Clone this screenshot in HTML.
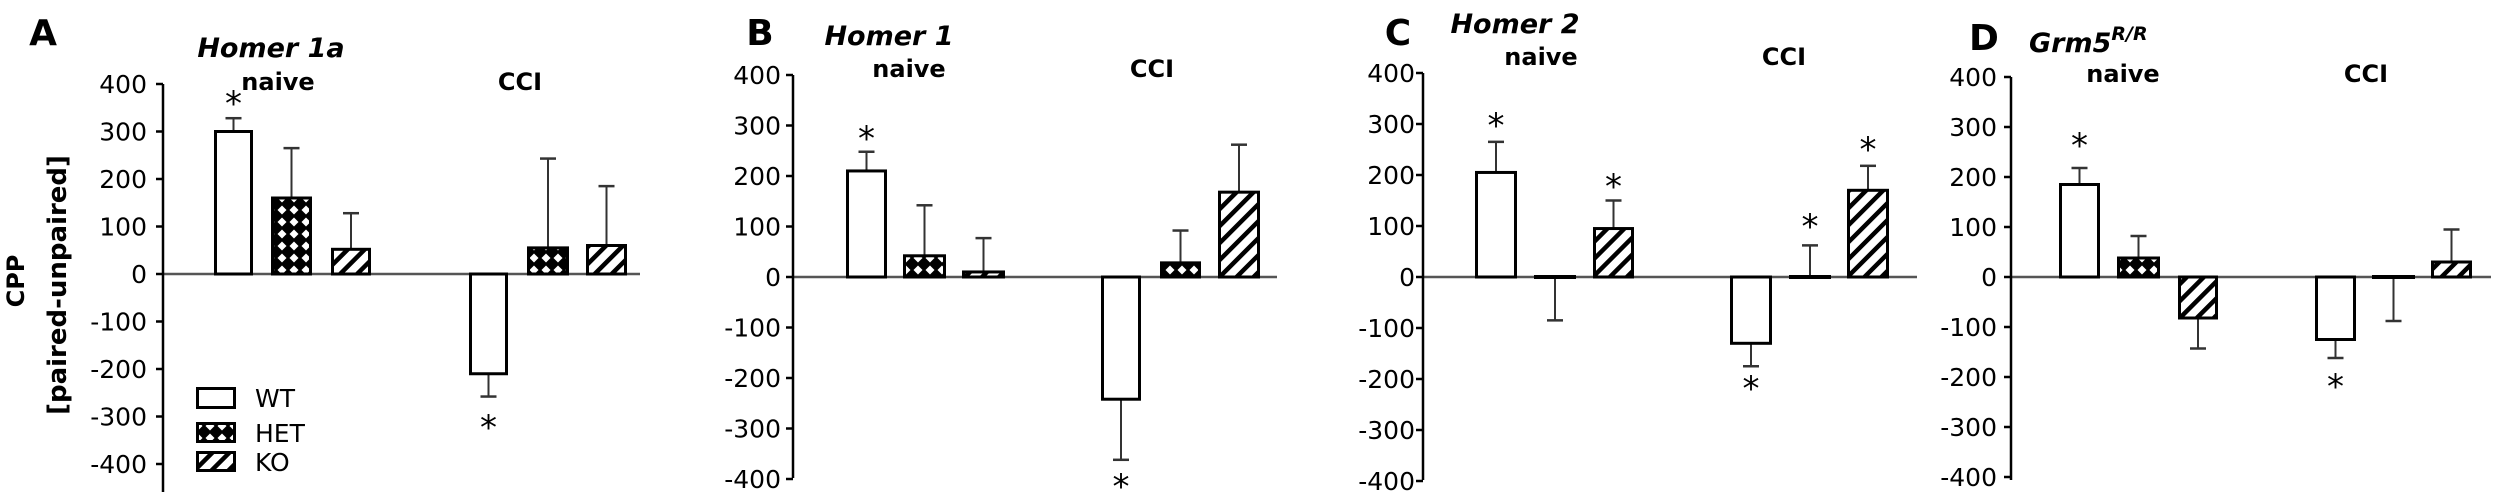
<!DOCTYPE html>
<html><head><meta charset="utf-8">
<style>
html,body{margin:0;padding:0;background:#fff;}
svg{display:block;}
text{font-family:"DejaVu Sans","Liberation Sans",sans-serif;fill:#000;}
</style></head>
<body>
<svg id="s" width="2500" height="501" viewBox="0 0 2500 501" xmlns="http://www.w3.org/2000/svg">
<defs>
<pattern id="hatch" patternUnits="userSpaceOnUse" width="12" height="12" patternTransform="rotate(45)">
<rect width="12" height="12" fill="#fff"/><rect width="4.5" height="12" fill="#000"/>
</pattern>
<pattern id="cross" patternUnits="userSpaceOnUse" width="12" height="12">
<rect width="12" height="12" fill="#000"/><polygon points="6,1.5 10.5,6 6,10.5 1.5,6" fill="#fff"/>
</pattern>
</defs>
<g id="g"></g>
<text x="0" y="0" transform="translate(24,281) rotate(-90)" text-anchor="middle" font-size="24" font-weight="bold">CPP</text>
<text x="0" y="0" transform="translate(66,285) rotate(-90)" text-anchor="middle" font-size="26" font-weight="bold">[paired-unpaired]</text>
</svg>
<script>
var g=document.getElementById('g'),h='';
var P=[
{ax:163,y4:84,y0:274,yb:466,yend:492,lx:43,ly:45,L:'A',tx:271,ty:57,title:'Homer 1a',nx:278,cx:520,ny:90,zr:640,lr:147,
 bars:[[214,253,300,328,1,101],[271,312,160,265,0],[331,371,52,128,0],[469,508,-210,-258,1,425],[527,569,55,243,0],[586,627,60,185,0]]},
{ax:793,y4:75,y0:277,yb:478,yend:478,lx:760,ly:45,L:'B',tx:889,ty:45,title:'Homer 1',nx:909,cx:1152,ny:77,zr:1277,lr:781,
 bars:[[846,887,210,248,1,136],[903,946,42,142,0],[962,1005,10,77,0],[1101,1141,-242,-362,1,484],[1160,1201,28,92,0],[1218,1260,168,262,0]]},
{ax:1423,y4:73,y0:277,yb:480,yend:480,lx:1398,ly:45,L:'C',tx:1515,ty:33,title:'Homer 2',nx:1541,cx:1784,ny:65,zr:1917,lr:1415,
 bars:[[1475,1517,205,265,1,123],[1534,1576,0,-85,0],[1593,1634,95,150,1,184],[1730,1772,-130,-175,1,386],[1789,1831,3,62,1,224],[1847,1889,170,218,1,147]]},
{ax:2011,y4:77,y0:277,yb:480,yend:480,lx:1984,ly:50,L:'D',tx:0,ty:52,title:'',nx:2123,cx:2366,ny:82,zr:2491,lr:1997,
 bars:[[2059,2100,185,218,1,143],[2117,2160,38,82,0],[2178,2218,-82,-143,0],[2315,2356,-125,-162,1,384],[2372,2415,0,-88,0],[2431,2472,30,95,0]]}
];
var fills=['#fff','url(#cross)','url(#hatch)'];
P.forEach(function(p){
 var k=(p.y0-p.y4)/400;
 function Y(v){return p.y0-v*k;}
 h+='<line x1="'+p.ax+'" y1="'+p.y0+'" x2="'+p.zr+'" y2="'+p.y0+'" stroke="#555" stroke-width="2.5"/>';
 h+='<line x1="'+p.ax+'" y1="'+p.y4+'" x2="'+p.ax+'" y2="'+p.yend+'" stroke="#000" stroke-width="2.5"/>';
 for(var v=400;v>=-400;v-=100){var y=Y(v);
  h+='<line x1="'+(p.ax-7)+'" y1="'+y+'" x2="'+p.ax+'" y2="'+y+'" stroke="#000" stroke-width="2.5"/>';
  h+='<text x="'+p.lr+'" y="'+(y+9)+'" font-size="25" text-anchor="end">'+(v<0?'-'+(-v):v)+'</text>';}
 h+='<text x="'+p.lx+'" y="'+(p.ly)+'" font-size="36" font-weight="bold" font-family="Liberation Sans" text-anchor="middle">'+p.L+'</text>';
 if(p.title) h+='<text x="'+p.tx+'" y="'+p.ty+'" font-size="27" font-style="italic" font-weight="bold" text-anchor="middle">'+p.title+'</text>';
 else h+='<text x="2029" y="'+p.ty+'" font-size="27" font-style="italic" font-weight="bold">Grm5<tspan dy="-12" font-size="19">R/R</tspan></text>';
 h+='<text x="'+p.nx+'" y="'+p.ny+'" font-size="24" font-weight="bold" text-anchor="middle">naive</text>';
 h+='<text x="'+p.cx+'" y="'+p.ny+'" font-size="24" font-weight="bold" text-anchor="middle">CCI</text>';
 p.bars.forEach(function(b,i){
  var x1=b[0],x2=b[1],v=b[2],e=b[3],mx=(x1+x2)/2,yv=Y(v),ye=Y(e);
  h+='<line x1="'+mx+'" y1="'+yv+'" x2="'+mx+'" y2="'+ye+'" stroke="#333" stroke-width="2"/>';
  h+='<line x1="'+(mx-8)+'" y1="'+ye+'" x2="'+(mx+8)+'" y2="'+ye+'" stroke="#333" stroke-width="2.5"/>';
  var top=Math.min(yv,p.y0),ht=Math.abs(yv-p.y0);
  if(ht<3){h+='<rect x="'+x1+'" y="'+(p.y0-2)+'" width="'+(x2-x1)+'" height="4" fill="#000"/>';}
  else h+='<rect x="'+(x1+1.5)+'" y="'+top+'" width="'+(x2-x1-3)+'" height="'+ht+'" fill="'+fills[i%3]+'" stroke="#000" stroke-width="3"/>';
  if(b[4]) h+='<text x="'+mx+'" y="'+(b[5]+14)+'" font-size="34" text-anchor="middle">*</text>';
 });
});
var lg=[[387,'WT',0],[422,'HET',1],[451,'KO',2]];
lg.forEach(function(l){
 h+='<rect x="197.5" y="'+(l[0]+1.5)+'" width="37" height="'+(l[2]==0?19:18)+'" fill="'+fills[l[2]]+'" stroke="#000" stroke-width="3"/>';
 h+='<text x="255" y="'+(l[0]+20)+'" font-size="25">'+l[1]+'</text>';
});
g.innerHTML=h;
</script>
</body></html>
